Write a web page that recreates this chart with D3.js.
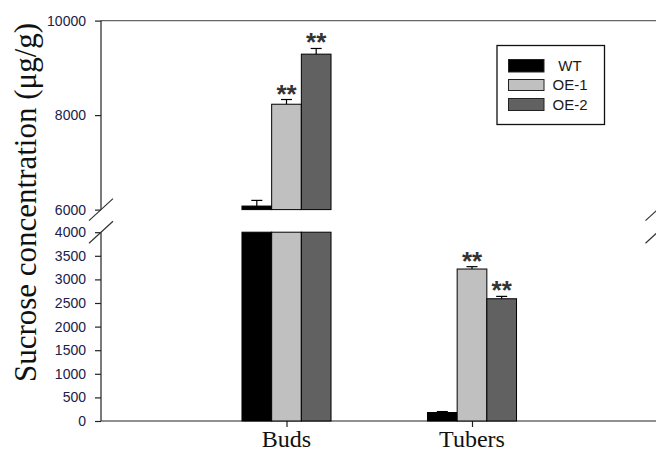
<!DOCTYPE html>
<html>
<head>
<meta charset="utf-8">
<script src="https://cdn.jsdelivr.net/npm/d3@7"></script>
<style>
  html, body { margin: 0; padding: 0; background: #fff; }
  svg { display: block; }
</style>
</head>
<body>
<svg id="chart" width="656" height="450"></svg>
<script>
// ---- data ----
const categories = ["Buds", "Tubers"];
const seriesNames = ["WT", "OE-1", "OE-2"];
const seriesColors = ["#000000", "#c0c0c0", "#616161"];
const valuesWT  = [6075, 180];
const valuesOE1 = [8230, 3220];
const valuesOE2 = [9290, 2590];
const errorsWT  = [120, 20];
const errorsOE1 = [100, 50];
const errorsOE2 = [120, 50];
const sigWT  = ["", ""];
const sigOE1 = ["**", "**"];
const sigOE2 = ["**", "**"];
const yTickValues = [0, 500, 1000, 1500, 2000, 2500, 3000, 3500, 4000, 6000, 8000, 10000];
const breakLow = 4000, breakHigh = 6000;

const values = [valuesWT, valuesOE1, valuesOE2];
const errors = [errorsWT, errorsOE1, errorsOE2];
const sigs = [sigWT, sigOE1, sigOE2];

// ---- scales ----
const svg = d3.select("#chart");
const x = d3.scaleLinear().domain([0, 3]).range([101, 657.5]);
const y = d3.scaleLinear()
  .domain([0, breakLow, breakHigh, 10000])
  .range([421, 232.2, 209.6, 20.6]);
const barW = 0.16;
const offsets = [-1.5 * barW, -0.5 * barW, 0.5 * barW];

// ---- frame ----
svg.append("line").attr("x1", x(0)).attr("x2", x(3)).attr("y1", y(10000)).attr("y2", y(10000))
  .attr("stroke", "#666").attr("stroke-width", 1.2);
svg.append("line").attr("x1", x(0)).attr("x2", x(0)).attr("y1", y(10000)).attr("y2", y(breakHigh))
  .attr("stroke", "#222").attr("stroke-width", 1.2);
svg.append("line").attr("x1", x(0)).attr("x2", x(0)).attr("y1", y(breakLow)).attr("y2", y(0))
  .attr("stroke", "#222").attr("stroke-width", 1.2);

// y axis ticks & labels
const yAxis = d3.axisLeft(y).tickValues(yTickValues).tickSize(6).tickPadding(9).tickFormat(d3.format("d"));
const gy = svg.append("g").attr("transform", `translate(${x(0)},0)`).call(yAxis);
gy.select(".domain").remove();
gy.selectAll(".tick line").attr("stroke", "#222").attr("stroke-width", 1.2);
gy.selectAll(".tick text").attr("font-family", "Liberation Sans, Arial, sans-serif")
  .attr("font-size", 14).attr("fill", "#20204a");

// x axis
const xAxis = d3.axisBottom(x).tickValues([1, 2]).tickSize(6).tickFormat("");
const gx = svg.append("g").attr("transform", `translate(0,${y(0)})`).call(xAxis);
gx.select(".domain").attr("stroke", "#222").attr("stroke-width", 1.2).attr("d", `M${x(0)},0H${x(3)}`);
gx.selectAll(".tick line").attr("stroke", "#222").attr("stroke-width", 1.2);
svg.selectAll(".xlab").data(categories).enter().append("text")
  .attr("x", (d, i) => x(i + 1)).attr("y", 446.5)
  .attr("text-anchor", "middle")
  .attr("font-family", "Liberation Serif, Times New Roman, serif")
  .attr("font-size", 24).attr("fill", "#111").text(d => d);

// y title
svg.append("text")
  .attr("transform", `translate(36,202.5) rotate(-90)`)
  .attr("text-anchor", "middle")
  .attr("font-family", "Liberation Serif, Times New Roman, serif")
  .attr("font-size", 31).attr("fill", "#111")
  .text("Sucrose concentration (μg/g)");

// ---- bars ----
const gBars = svg.append("g");
values.forEach((vals, s) => {
  vals.forEach((v, c) => {
    const x0 = x(c + 1 + offsets[s]);
    const w = x(c + 1 + offsets[s] + barW) - x0;
    const lowTop = Math.min(v, breakLow);
    gBars.append("rect").attr("x", x0).attr("y", y(lowTop)).attr("width", w).attr("height", y(0) - y(lowTop))
      .attr("fill", seriesColors[s]).attr("stroke", "#000").attr("stroke-width", 1);
    if (v > breakHigh) {
      gBars.append("rect").attr("x", x0).attr("y", y(v)).attr("width", w).attr("height", y(breakHigh) - y(v))
        .attr("fill", seriesColors[s]).attr("stroke", "#000").attr("stroke-width", 1);
    }
    const e = errors[s][c];
    const cx = x0 + w / 2;
    gBars.append("line").attr("x1", cx).attr("x2", cx).attr("y1", y(v)).attr("y2", y(v + e))
      .attr("stroke", "#000").attr("stroke-width", 1.2);
    gBars.append("line").attr("x1", cx - 5.5).attr("x2", cx + 5.5).attr("y1", y(v + e)).attr("y2", y(v + e))
      .attr("stroke", "#000").attr("stroke-width", 1.2);
    if (sigs[s][c]) {
      gBars.append("text").attr("x", cx).attr("y", y(v + e) + 3)
        .attr("text-anchor", "middle")
        .attr("font-family", "Liberation Sans, Arial, sans-serif")
        .attr("font-size", 26).attr("font-weight", "bold").attr("fill", "#333").text(sigs[s][c]);
    }
  });
});

// ---- break marks ----
[x(0), x(3)].forEach(bx => {
  [breakHigh, breakLow].forEach(bv => {
    const by = y(bv);
    svg.append("line").attr("x1", bx - 12).attr("y1", by + 11).attr("x2", bx + 12).attr("y2", by - 11)
      .attr("stroke", "#333").attr("stroke-width", 1.2);
  });
});

// ---- legend ----
const lg = svg.append("g");
lg.append("rect").attr("x", 497).attr("y", 45.5).attr("width", 107.5).attr("height", 79)
  .attr("fill", "#fff").attr("stroke", "#111").attr("stroke-width", 1.3);
const swY = [59.5, 79.5, 98.5];
const swH = [12.5, 11, 12];
seriesNames.forEach((n, i) => {
  lg.append("rect").attr("x", 508.5).attr("y", swY[i]).attr("width", 35.5).attr("height", swH[i])
    .attr("fill", seriesColors[i]).attr("stroke", "#222").attr("stroke-width", 1);
  lg.append("text").attr("x", 570).attr("y", swY[i] + swH[i] / 2).attr("dy", "0.35em")
    .attr("text-anchor", "middle")
    .attr("font-family", "Liberation Sans, Arial, sans-serif")
    .attr("font-size", 15).attr("fill", "#1a1a1a").text(n);
});
</script>
</body>
</html>
